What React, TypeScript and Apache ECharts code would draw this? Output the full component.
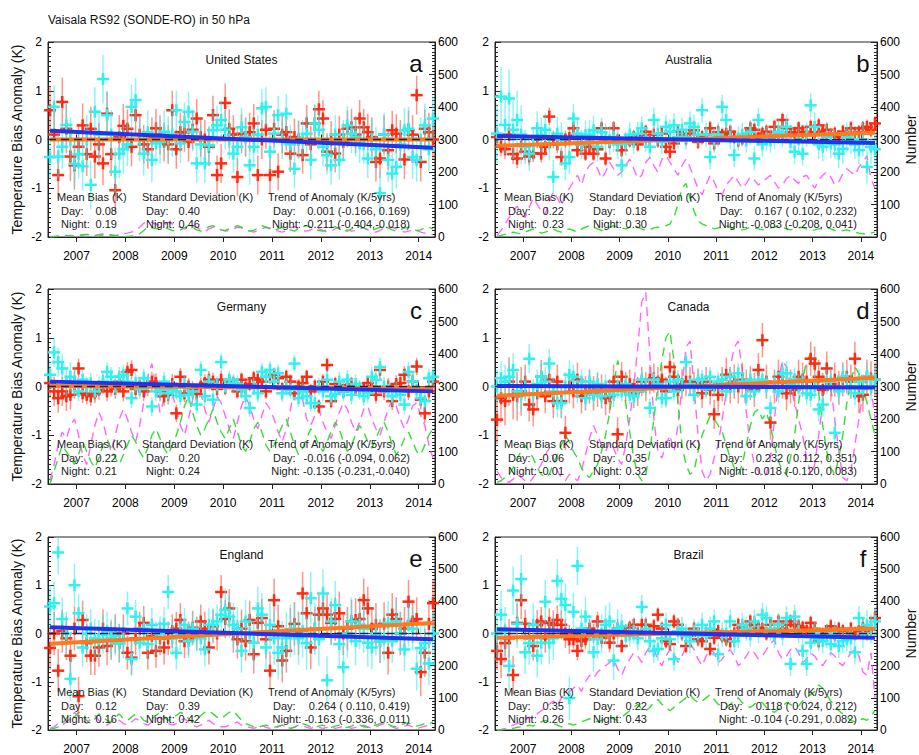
import React, { useEffect, useRef } from 'react';
import * as echarts from 'echarts';

const FONT = '"Liberation Sans", Arial, Helvetica, sans-serif';
const X_MIN = 2006 + 5 / 12; // start of June 2006
const X_MAX = 2014 + 4 / 12; // start of May 2014
const yearTicks = [2007, 2008, 2009, 2010, 2011, 2012, 2013, 2014];
const mainTitle = 'Vaisala RS92 (SONDE-RO) in 50 hPa';

// ---------- United States ----------
const usDay = [0.6,0.1,-0.73,0.77,0.22,-0.35,-0.53,-0.15,0.29,-0.3,0.22,-0.35,-0.1,-0.49,0.53,-0.3,-1.04,0.05,0.28,0.22,-0.15,0.5,0.1,-0.1,-0.2,0.05,0.23,0.1,-0.05,-0.1,0.6,-0.2,0.15,0.15,-0.05,0.2,0.43,0.05,0.0,-0.15,0.5,-0.73,-0.49,0.75,0.22,0.1,-0.77,0.12,0.05,0.15,0.33,-0.73,0.0,0.2,-0.73,0.22,-0.66,0.1,0.15,-0.29,0.05,0.0,-0.32,0.33,-0.1,0.33,0.62,0.43,-0.25,0.0,-0.29,0.1,-0.05,0.22,0.25,0.1,0.43,0.25,0.15,0.05,-0.46,-0.39,0.1,-0.22,0.19,0.12,0.0,-0.41,0.19,0.1,0.91,-0.46,0.22,0.15,0.0];
const usNight = [-0.36,0.67,-0.35,-0.15,0.3,0.0,-0.5,-0.3,-0.55,0.0,-0.93,0.57,0.1,1.24,0.5,0.1,-0.66,-0.29,-0.2,-0.1,0.67,0.81,0.0,-0.29,0.15,-0.42,-0.08,-0.05,0.16,0.02,0.1,0.6,-0.08,0.36,0.57,0.16,-0.49,-0.1,-0.49,-0.12,0.19,0.29,0.4,0.2,0.0,-0.29,-0.15,0.25,0.05,-0.53,-0.15,0.1,0.64,0.67,-0.25,0.12,0.5,0.0,0.53,-0.1,-0.6,0.0,0.0,0.12,-0.42,0.33,0.2,-0.15,-0.32,-0.53,0.1,-0.42,0.0,0.29,0.12,0.05,-0.08,-0.1,-0.39,0.0,-0.2,-1.1,0.1,-0.42,-0.7,-0.56,-0.1,0.19,0.22,-0.36,-0.42,0.0,0.29,-0.2,0.43];
const usDayErr = [0.5,0.45,0.4,0.4,0.4,0.38,0.38,0.4,0.4];
const usNightErr = [0.45,0.5,0.45,0.4,0.4,0.4,0.4,0.45,0.45];
const usCountDay = [2,2,3,2,3,5,4, 5,6,8,6,5,8,10,8,6,5,8,10, 12,15,20,30,42,48,45,40,35,38,45,40, 35,30,25,28,35,30,22,18,25,30,28,22, 18,20,25,30,28,22,18,15,20,25,30,28, 22,18,15,20,28,32,25,20,18,22,28,25, 20,15,18,25,30,28,22,18,20,25,28,22, 18,15,20,28,32,30,25,20,15,18,22,20, 15,12,10,8];
const usCountNight = [0,1,2,3,5,3,2, 4,6,8,5,4,3,6,8,6,4,3,2, 2,3,5,10,20,30,28,25,30,32,25,20, 18,22,28,35,30,22,18,25,32,35,28,22, 20,25,30,35,30,22,18,20,28,35,30,25, 20,25,30,28,22,18,25,32,35,30,22,20, 18,22,28,32,25,20,18,25,30,32,28,22, 20,25,30,35,28,22,18,22,28,30,25,20, 22,28,30,25];
const usTrendDay = [0.0, 0.0];
const usTrendNight = [0.18, -0.17];
const usStats = ['0.08', '0.19', '0.40', '0.46', '0.001 (-0.166, 0.169)', '-0.211 (-0.404,-0.018)'];

// ---------- Australia ----------
const auDay = [0.05,-0.15,-0.2,0.1,-0.3,-0.39,-0.1,-0.25,-0.35,-0.28,0.0,-0.29,-0.15,0.47,0.0,-0.1,-0.36,0.0,0.03,0.23,-0.22,-0.1,-0.29,-0.15,-0.29,-0.2,0.23,-0.39,-0.05,0.23,-0.02,-0.22,-0.08,-0.02,0.05,-0.1,0.09,0.16,-0.02,0.1,-0.02,0.12,-0.15,-0.25,-0.08,0.16,0.1,0.02,0.12,0.19,-0.05,0.05,0.1,0.23,-0.08,0.15,0.09,0.12,0.16,0.05,-0.02,0.02,0.1,0.23,0.2,0.02,0.12,0.16,0.05,0.26,0.1,0.4,0.23,0.15,0.12,0.23,0.16,0.1,0.26,0.15,0.29,0.16,0.2,0.09,0.12,0.05,0.16,0.1,0.23,0.12,0.15,0.23,0.26,0.2,0.33];
const auNight = [0.12,0.88,0.3,0.84,0.2,0.4,0.1,-0.15,-0.29,-0.1,0.23,0.09,0.2,-0.08,-0.77,0.12,0.0,-0.49,-0.36,0.43,0.12,-0.1,0.09,0.1,0.19,-0.15,0.15,0.02,-0.02,0.05,-0.1,-0.53,-0.08,0.1,-0.05,0.12,0.23,0.0,-0.15,0.4,0.12,-0.05,0.26,0.16,0.29,0.05,0.2,0.05,0.33,0.26,0.1,0.6,0.1,-0.36,-0.02,0.1,0.67,0.4,0.05,-0.32,0.02,0.1,-0.02,0.15,-0.39,0.4,-0.1,0.02,-0.02,0.05,0.16,0.1,0.26,-0.05,-0.25,0.0,-0.29,0.1,0.7,0.26,-0.1,-0.15,0.05,-0.08,-0.1,-0.29,-0.19,0.05,0.0,-0.1,-0.22,0.0,-0.56,-0.15,-0.2];
const auDayErr = [0.2,0.18,0.15,0.15,0.15,0.15,0.15,0.15,0.15];
const auNightErr = [0.6,0.35,0.3,0.25,0.25,0.25,0.25,0.3,0.35];
const auCountDay = [5,20,40,60,80,95,70, 60,90,120,100,80,70,110,140,120,95,130,150, 170,190,160,200,220,230,210,180,200,230,210,190, 200,220,240,210,180,190,230,245,220,200,240,250, 230,210,190,220,240,215,180,150,130,160,190,170, 140,130,160,175,190,170,150,165,185,175,160,170, 180,190,170,150,160,180,190,175,165,185,190,170, 150,175,190,200,185,160,170,195,210,200,190,215, 230,250,180,150];
const auCountNight = [2,5,8,10,15,12,10, 15,20,25,18,12,15,20,25,18,15,20,25, 20,15,25,30,35,30,25,20,25,30,35,30, 28,25,30,35,30,25,20,22,28,30,32,35, 40,60,100,150,165,120,80,50,40,35,30,25, 28,30,35,30,25,20,22,25,30,28,25,22, 25,28,30,35,30,25,22,25,28,30,25,20, 22,25,28,30,25,20,18,20,22,18,15,12, 10,8,12,15];
const auTrendDay = [-0.13, 0.14];
const auTrendNight = [0.07, -0.07];
const auStats = ['0.22', '0.23', '0.18', '0.30', '0.167 ( 0.102, 0.232)', '-0.083 (-0.208, 0.041)'];

// ---------- Germany ----------
const deDay = [0.07,-0.1,-0.24,-0.1,-0.2,-0.17,0.05,0.37,-0.14,-0.17,-0.2,-0.14,-0.07,0.05,-0.1,0.0,-0.05,0.1,-0.1,0.3,0.34,-0.05,0.0,-0.1,0.0,0.1,0.07,-0.1,-0.2,-0.17,0.05,-0.55,0.2,-0.14,0.0,-0.07,-0.15,0.0,0.07,0.14,0.1,-0.05,0.14,-0.03,0.1,0.07,-0.1,0.14,-0.03,0.05,0.17,0.14,0.1,-0.1,0.2,0.24,0.17,-0.05,0.2,0.1,-0.14,0.0,0.07,0.2,-0.1,0.0,-0.41,0.1,0.44,-0.3,0.05,-0.03,-0.1,0.03,0.05,-0.03,-0.05,-0.07,0.07,0.0,-0.17,0.34,-0.1,0.0,-0.3,0.05,0.07,0.24,-0.1,0.1,0.41,-0.27,-0.55,-0.1,0.1];
const deNight = [0.24,0.7,0.5,0.37,0.1,0.2,0.07,-0.1,0.14,0.0,0.07,-0.1,0.0,0.1,0.3,0.2,0.0,0.2,0.24,0.1,-0.24,0.07,-0.05,0.17,0.05,-0.41,-0.1,-0.07,0.1,-0.14,-0.07,-0.1,-0.2,0.05,-0.17,-0.1,-0.37,0.34,-0.2,0.1,-0.27,0.03,0.5,0.0,0.14,0.07,0.05,-0.07,-0.2,-0.44,0.0,-0.14,0.3,0.2,0.34,0.1,0.27,-0.14,0.0,-0.07,0.47,-0.24,-0.1,-0.2,-0.34,-0.34,0.0,-0.1,0.14,-0.2,-0.15,0.1,-0.1,0.14,-0.17,0.05,-0.07,-0.2,-0.14,0.2,0.14,0.4,0.0,-0.07,-0.2,-0.1,-0.17,-0.37,0.3,0.1,-0.07,-0.24,-0.3,0.17,0.2];
const deDayErr = [0.3,0.2,0.2,0.18,0.15,0.15,0.15,0.18,0.2];
const deNightErr = [0.3,0.2,0.2,0.18,0.18,0.18,0.2,0.2,0.2];
const deCountDay = [10,60,120,160,140,180,200, 150,90,60,120,180,220,190,140,100,150,200,230, 200,160,130,180,250,330,370,300,220,260,300,280, 230,180,150,200,260,310,280,230,190,230,270,250, 210,170,140,190,240,270,240,200,170,210,250,230, 200,160,130,170,230,290,310,260,200,180,210,230, 190,160,140,180,220,250,230,190,160,190,230,240, 200,170,150,190,230,260,240,200,170,200,240,250, 210,180,120,80];
const deCountNight = [0,40,80,120,100,80,60, 90,130,100,70,50,80,120,140,110,80,60,90, 120,150,130,100,80,110,150,170,140,110,90,120, 150,190,240,270,220,180,150,170,200,230,190,160, 140,170,200,160,120,100,130,170,190,160,120,100, 120,150,180,200,160,120,90,110,140,170,150,120, 100,130,160,190,170,130,100,120,150,180,160,130, 110,140,170,190,160,120,90,110,140,160,130,100, 90,120,150,170];
const deTrendDay = [0.01, -0.04];
const deTrendNight = [0.1, -0.1];
const deStats = ['0.22', '0.21', '0.20', '0.24', '-0.016 (-0.094, 0.062)', '-0.135 (-0.231,-0.040)'];

// ---------- Canada ----------
const caDay = [-0.68,-0.24,-0.3,0.1,-0.17,-0.2,-0.1,0.1,-0.37,-0.47,-0.14,0.2,-0.2,0.14,-0.3,0.1,-0.3,-0.95,0.0,-0.1,0.14,-0.2,-0.14,0.0,-0.14,-0.07,-0.1,-0.24,-0.2,0.1,-0.98,0.2,0.0,0.05,-0.14,-0.1,0.1,0.0,0.14,0.17,0.1,0.14,-0.1,0.4,0.2,-0.07,0.05,0.1,0.1,0.0,0.07,-0.14,0.1,-0.07,-0.57,-0.17,0.05,0.24,0.0,0.1,0.0,0.14,0.0,0.07,-0.07,0.34,0.95,0.1,-0.74,0.0,0.2,0.1,-0.14,0.0,-0.07,0.2,0.14,0.1,0.57,0.47,0.2,-0.07,0.37,0.05,0.14,-0.03,0.15,0.2,0.1,0.57,-0.2,-0.17,0.2,0.17,0.14];
const caNight = [0.0,0.17,0.1,0.2,0.34,-0.1,-0.17,0.0,0.57,-0.14,0.05,0.2,0.1,0.47,-0.1,-0.34,-0.34,0.0,0.24,0.2,-0.1,0.1,-0.24,0.1,-0.17,0.05,-0.2,0.0,-0.1,-0.17,0.0,-0.1,0.05,-0.17,-0.2,-0.1,0.14,0.0,-0.44,0.14,0.05,-0.24,-0.24,0.1,-0.1,0.14,0.0,0.5,0.05,-0.17,0.14,0.14,-0.05,0.2,0.0,0.1,0.14,-0.1,0.2,0.0,0.27,0.1,-0.2,0.14,-0.1,0.1,0.14,0.0,-0.44,0.07,-0.1,0.27,0.27,0.05,0.14,0.0,0.1,-0.14,-0.17,0.0,-0.47,-0.37,0.1,0.1,-0.95,-0.1,0.2,0.14,0.0,-0.14,0.1,-0.05,0.2,0.0,0.14];
const caDayErr = [0.5,0.35,0.35,0.3,0.3,0.35,0.35,0.35,0.35];
const caNightErr = [0.35,0.3,0.25,0.2,0.2,0.2,0.25,0.25,0.3];
const caCountDay = [40,20,10,5,15,30,20, 10,5,20,40,60,90,110,80,40,20,10,30, 20,10,40,90,140,180,150,120,100,130,110,80, 60,120,200,300,420,560,590,400,200,100,80,120, 150,100,180,300,420,440,300,150,40,10,30,80, 120,200,280,360,420,440,350,220,120,60,40,20, 30,80,200,320,380,360,300,250,200,150,80,30, 60,150,250,330,300,200,100,20,10,40,120,200, 280,330,300,200];
const caCountNight = [5,10,20,30,50,80,100, 120,100,80,50,30,20,30,60,90,120,150,130, 100,80,50,30,20,40,60,100,150,220,300,380, 340,250,160,80,30,10,30,100,200,300,380,450, 470,380,250,120,60,30,40,100,150,180,210,200, 180,160,120,80,50,30,60,120,180,220,230,200, 220,180,120,70,40,30,80,150,250,320,380,400, 360,280,180,100,50,30,80,150,250,320,360,340, 300,250,200,150];
const caTrendDay = [-0.19, 0.18];
const caTrendNight = [0.01, -0.02];
const caStats = ['-0.06', '-0.01', '0.35', '0.32', '0.232 ( 0.112, 0.351)', '-0.018 (-0.120, 0.083)'];

// ---------- England ----------
const enDay = [-0.3,0.0,-0.77,0.05,-0.1,-0.46,0.1,-1.3,0.28,-0.2,-0.46,-0.46,-0.29,0.1,-0.26,-0.15,0.0,-0.2,0.0,-0.4,-0.5,-0.1,0.1,0.22,-0.4,-0.05,-0.36,-0.1,-0.29,-0.1,0.05,0.1,0.28,-0.16,-0.1,0.12,0.0,0.25,0.1,-0.29,0.15,0.0,0.86,0.3,0.52,0.0,-0.12,0.1,-0.16,0.28,-0.43,0.22,0.32,-0.12,-0.77,0.69,0.15,-0.56,-0.36,0.08,0.2,0.0,0.83,0.42,-0.29,0.1,0.39,0.52,0.39,0.22,0.3,0.42,0.0,0.1,0.25,0.28,0.3,0.69,0.52,0.1,0.18,-0.16,0.2,-0.4,0.39,0.3,0.0,0.1,0.66,0.25,0.3,-0.8,-0.4,0.2,0.63];
const enNight = [0.56,0.63,1.68,0.3,0.0,-0.94,1.0,0.42,-0.29,0.0,0.1,-0.1,-0.12,-0.02,0.05,-0.1,-0.05,-0.2,-0.12,0.52,-0.53,0.35,-0.19,0.1,-0.22,0.18,-0.1,0.0,0.2,0.86,-0.1,-0.4,0.0,0.18,-0.16,0.1,-0.02,-0.1,-0.33,0.18,0.18,0.25,0.39,0.49,0.35,0.18,0.1,-0.36,0.25,0.0,-0.19,0.52,0.39,-0.29,0.18,-0.1,-0.4,-0.29,-0.1,0.05,0.1,-0.1,0.05,-0.2,0.73,0.1,-0.12,0.83,-0.97,0.25,0.59,-0.22,-0.7,0.0,0.25,-0.16,0.18,0.1,-0.19,-0.29,0.0,-0.16,-0.1,0.22,-0.16,0.25,0.0,-0.33,0.18,0.1,-0.73,-0.3,-0.2,-0.62,0.0];
const enDayErr = [0.45,0.4,0.35,0.35,0.4,0.45,0.45,0.45,0.5];
const enNightErr = [0.45,0.4,0.35,0.35,0.45,0.55,0.5,0.45,0.45];
const enCountDay = [5,10,20,15,25,35,55, 40,30,20,35,45,30,20,15,25,35,30,20, 15,25,35,30,20,15,25,35,40,30,20,15, 20,30,35,25,15,10,15,25,30,20,15,10, 10,15,20,25,15,10,8,5,10,15,8,5, 5,10,15,8,5,10,15,12,8,5,10,8, 5,8,10,5,8,12,10,5,8,10,15,10, 5,10,15,20,15,10,5,8,12,15,10,5, 8,12,15,10];
const enCountNight = [2,5,10,20,35,50,40, 55,45,30,20,35,50,40,30,25,40,50,35, 30,40,50,45,30,25,35,45,55,40,30,35, 45,55,50,35,25,30,45,55,60,50,40,35, 45,55,60,45,30,20,15,10,8,12,15,10, 8,12,15,10,5,8,15,20,15,10,8,12, 15,10,8,12,15,10,8,12,18,15,10,8, 12,15,20,25,18,12,10,15,20,22,15,12, 15,20,18,25];
const enTrendDay = [-0.21, 0.22];
const enTrendNight = [0.13, -0.12];
const enStats = ['0.12', '0.16', '0.39', '0.42', '0.264 ( 0.110, 0.419)', '-0.163 (-0.336, 0.011)'];

// ---------- Brazil ----------
const brDay = [-0.36,-0.53,-0.2,-0.1,-0.86,0.22,0.69,0.2,-0.1,-0.26,0.18,0.25,-0.1,0.22,0.18,0.28,0.18,0.0,-0.12,-0.12,-0.36,-0.16,-0.12,0.1,0.0,0.25,-0.09,0.05,-0.19,0.0,0.1,-0.26,0.05,0.12,0.18,0.0,0.18,0.18,0.0,0.15,0.39,0.1,-0.16,-0.22,0.25,0.18,0.0,-0.26,-0.05,0.1,-0.12,-0.16,0.0,-0.32,-0.09,0.05,-0.05,-0.12,-0.16,0.0,0.18,0.12,0.05,0.25,0.18,0.12,0.1,0.0,0.18,0.0,0.25,0.1,0.18,0.25,0.18,0.15,0.12,0.05,0.22,0.1,-0.16,-0.02,0.05,0.15,-0.02,0.1,0.05,-0.05,0.1,0.0,0.05,0.12,0.05,0.1,0.32];
const brNight = [0.0,0.39,0.05,-0.67,0.89,0.2,1.13,-0.39,-0.2,0.18,-0.46,-0.19,0.66,-0.19,-0.1,1.09,0.72,0.59,-1.34,0.45,1.4,0.1,0.35,-0.02,-0.39,-0.12,0.0,0.18,0.25,-0.56,0.1,0.15,-0.05,-0.02,0.05,-0.1,0.55,0.1,-0.16,-0.36,-0.32,-0.1,0.18,-0.12,-0.53,0.05,0.1,-0.05,-0.16,0.05,0.0,0.18,-0.05,0.1,0.25,-0.43,-0.02,0.0,0.25,-0.16,-0.05,0.18,0.1,-0.02,0.25,0.05,0.39,0.32,0.1,-0.05,0.18,0.0,0.32,-0.63,0.35,0.05,-0.36,-0.63,-0.19,0.0,-0.12,-0.16,-0.05,-0.22,0.0,-0.26,-0.16,-0.12,-0.1,-0.39,0.32,0.0,0.18,0.1,0.25];
const brDayErr = [0.4,0.3,0.2,0.15,0.15,0.15,0.15,0.15,0.2];
const brNightErr = [0.5,0.45,0.4,0.25,0.25,0.25,0.25,0.25,0.3];
const brCountDay = [0,2,5,10,15,20,25, 30,40,35,50,60,70,80,90,75,100,110,120, 130,140,120,150,170,160,180,190,200,210,220,190, 170,200,220,240,230,210,240,260,250,220,200,230, 250,240,210,230,260,270,250,220,200,230,250,240, 210,220,240,250,230,200,210,230,250,240,220,230, 250,270,280,240,220,230,250,260,240,210,220,240, 230,210,200,220,240,230,210,200,220,240,250,230, 180,170,240,100];
const brCountNight = [0,0,2,5,5,8,10, 10,15,12,20,25,30,25,20,15,10,15,20, 15,20,25,30,35,30,25,30,35,40,35,30, 40,50,60,70,80,65,60,70,85,95,80,70, 60,70,80,90,100,110,95,85,90,100,110,95, 80,75,70,80,90,100,85,75,70,80,90,85, 70,60,55,65,75,85,80,70,75,90,100,110, 120,140,130,110,90,75,60,50,40,30,25,30, 35,30,45,60];
const brTrendDay = [-0.09, 0.1];
const brTrendNight = [0.09, -0.09];
const brStats = ['0.35', '0.26', '0.22', '0.43', '0.118 ( 0.024, 0.212)', '-0.104 (-0.291, 0.082)'];

const panels = [
  { name: 'United States', letter: 'a', day: usDay, night: usNight, dayErr: usDayErr, nightErr: usNightErr, cD: usCountDay, cN: usCountNight, tD: usTrendDay, tN: usTrendNight, stats: usStats },
  { name: 'Australia', letter: 'b', day: auDay, night: auNight, dayErr: auDayErr, nightErr: auNightErr, cD: auCountDay, cN: auCountNight, tD: auTrendDay, tN: auTrendNight, stats: auStats },
  { name: 'Germany', letter: 'c', day: deDay, night: deNight, dayErr: deDayErr, nightErr: deNightErr, cD: deCountDay, cN: deCountNight, tD: deTrendDay, tN: deTrendNight, stats: deStats },
  { name: 'Canada', letter: 'd', day: caDay, night: caNight, dayErr: caDayErr, nightErr: caNightErr, cD: caCountDay, cN: caCountNight, tD: caTrendDay, tN: caTrendNight, stats: caStats },
  { name: 'England', letter: 'e', day: enDay, night: enNight, dayErr: enDayErr, nightErr: enNightErr, cD: enCountDay, cN: enCountNight, tD: enTrendDay, tN: enTrendNight, stats: enStats },
  { name: 'Brazil', letter: 'f', day: brDay, night: brNight, dayErr: brDayErr, nightErr: brNightErr, cD: brCountDay, cN: brCountNight, tD: brTrendDay, tN: brTrendNight, stats: brStats },
];

const COL_LEFT = [48, 495];
const ROW_TOP = [42, 289, 537];
const GRID_W = 387;
const GRID_H = [195, 195, 194];

const xOf = (i: number) => X_MIN + (i + 0.5) / 12;
const errOf = (arr: number[], i: number) => arr[Math.min(arr.length - 1, Math.max(0, Math.floor(xOf(i)) - 2006))];

function crossRenderer(color: string, barColor: string) {
  return (params: any, api: any) => {
    const cs = params.coordSys;
    const x = api.value(0);
    const v = api.value(1);
    const e = api.value(2);
    const p = api.coord([x, v]);
    const clampY = (y: number) => Math.max(cs.y, Math.min(cs.y + cs.height, y));
    const t = clampY(api.coord([x, v + e])[1]);
    const b = clampY(api.coord([x, v - e])[1]);
    const children: any[] = [
      { type: 'line', shape: { x1: p[0], y1: t, x2: p[0], y2: b }, style: { stroke: barColor, lineWidth: 1.5 } },
    ];
    if (p[1] >= cs.y && p[1] <= cs.y + cs.height) {
      children.push({ type: 'line', shape: { x1: p[0] - 6, y1: p[1], x2: p[0] + 6, y2: p[1] }, style: { stroke: color, lineWidth: 2.5 } });
      children.push({ type: 'line', shape: { x1: p[0], y1: clampY(p[1] - 6), x2: p[0], y2: clampY(p[1] + 6) }, style: { stroke: color, lineWidth: 2.5 } });
    }
    return { type: 'group', children };
  };
}

function buildOption() {
  const grid: any[] = [];
  const xAxis: any[] = [];
  const yAxis: any[] = [];
  const series: any[] = [];
  const graphic: any[] = [];
  const axisColor = '#222';
  const textColor = '#111';

  graphic.push({ type: 'text', x: 48, y: 20, style: { text: mainTitle, font: `12px ${FONT}`, fill: textColor, textAlign: 'left', textVerticalAlign: 'middle' } });

  panels.forEach((p, k) => {
    const col = k % 2;
    const row = Math.floor(k / 2);
    const L = COL_LEFT[col];
    const T = ROW_TOP[row];
    const H = GRID_H[row];
    grid.push({ left: L, top: T, width: GRID_W, height: H, show: true, borderColor: axisColor, borderWidth: 1, backgroundColor: 'transparent' });
    // bottom axis (index 2k) and top axis (index 2k+1)
    xAxis.push({
      gridIndex: k, type: 'value', min: X_MIN, max: X_MAX, position: 'bottom',
      axisLine: { show: true, lineStyle: { color: axisColor, width: 1 } },
      axisTick: { show: true, inside: true, length: 5, customValues: yearTicks, lineStyle: { color: axisColor } },
      axisLabel: { show: true, customValues: yearTicks, formatter: (v: number) => String(Math.round(v)), fontSize: 12, fontFamily: FONT, color: '#000', margin: 13 },
      splitLine: { show: false },
    });
    xAxis.push({
      gridIndex: k, type: 'value', min: X_MIN, max: X_MAX, position: 'top',
      axisLine: { show: true, lineStyle: { color: axisColor, width: 1 } },
      axisTick: { show: true, inside: true, length: 5, customValues: yearTicks, lineStyle: { color: axisColor } },
      axisLabel: { show: false },
      splitLine: { show: false },
    });
    yAxis.push({
      gridIndex: k, type: 'value', min: -2, max: 2, interval: 1, position: 'left',
      axisLine: { show: true, lineStyle: { color: axisColor } },
      axisTick: { show: true, inside: true, length: 6, lineStyle: { color: axisColor } },
      minorTick: { show: true, splitNumber: 10, length: 3, lineStyle: { color: axisColor } },
      axisLabel: { fontSize: 12, fontFamily: FONT, color: '#000', margin: 6 },
      splitLine: { show: false },
      name: col === 0 ? 'Temperature Bias Anomaly (K)' : '',
      nameLocation: 'middle', nameGap: 24,
      nameTextStyle: { fontSize: 14, fontFamily: FONT, color: '#111' },
    });
    yAxis.push({
      gridIndex: k, type: 'value', min: 0, max: 600, interval: 100, position: 'right',
      axisLine: { show: true, lineStyle: { color: axisColor } },
      axisTick: { show: true, inside: true, length: 6, lineStyle: { color: axisColor } },
      minorTick: { show: true, splitNumber: 10, length: 3, lineStyle: { color: axisColor } },
      axisLabel: { fontSize: 12, fontFamily: FONT, color: '#000', margin: 3 },
      splitLine: { show: false },
      name: col === 1 ? 'Number' : '',
      nameLocation: 'middle', nameGap: 27,
      nameTextStyle: { fontSize: 14, fontFamily: FONT, color: '#111' },
    });

    const xi = 2 * k;
    const yl = 2 * k;
    const yr = 2 * k + 1;
    const lastIdx = p.day.length - 1;

    series.push({
      type: 'line', xAxisIndex: xi, yAxisIndex: yr, data: p.cD.map((c, i) => [xOf(i), c]),
      symbol: 'none', silent: true, z: 1,
      lineStyle: { color: '#ff66ff', width: 1.4, type: [9, 6] },
    });
    series.push({
      type: 'line', xAxisIndex: xi, yAxisIndex: yr, data: p.cN.map((c, i) => [xOf(i), c]),
      symbol: 'none', silent: true, z: 1,
      lineStyle: { color: '#33dd33', width: 1.4, type: [9, 6] },
    });
    series.push({
      type: 'custom', xAxisIndex: xi, yAxisIndex: yl, z: 2, silent: true,
      data: p.day.map((v, i) => [xOf(i), v, errOf(p.dayErr, i)]),
      renderItem: crossRenderer('#ff2a10', 'rgba(255,60,40,0.55)'),
    });
    series.push({
      type: 'custom', xAxisIndex: xi, yAxisIndex: yl, z: 3, silent: true,
      data: p.night.map((v, i) => [xOf(i), v, errOf(p.nightErr, i)]),
      renderItem: crossRenderer('#30f0f0', 'rgba(48,235,235,0.55)'),
    });
    series.push({
      type: 'line', xAxisIndex: xi, yAxisIndex: yl, data: [[xOf(0), p.tD[0]], [xOf(lastIdx), p.tD[1]]],
      symbol: 'none', silent: true, z: 4,
      lineStyle: { color: '#ff7a1e', width: 4 },
    });
    series.push({
      type: 'line', xAxisIndex: xi, yAxisIndex: yl, data: [[X_MIN, 0], [X_MAX, 0]],
      symbol: 'none', silent: true, z: 5,
      lineStyle: { color: '#22224a', width: 1.5, type: [8, 5] },
    });
    series.push({
      type: 'line', xAxisIndex: xi, yAxisIndex: yl, data: [[xOf(0), p.tN[0]], [xOf(lastIdx), p.tN[1]]],
      symbol: 'none', silent: true, z: 6,
      lineStyle: { color: '#2233ee', width: 4 },
    });

    // Texts
    const txt = (text: string, x: number, y: number, size: number, align = 'left', fill = '#222') => ({
      type: 'text', x, y, z: 10, silent: true,
      style: { text, font: `${size}px ${FONT}`, fill, textAlign: align, textVerticalAlign: 'middle' },
    });
    graphic.push(txt(p.name, L + GRID_W / 2, T + 18, 12, 'center', '#111'));
    graphic.push(txt(p.letter, L + GRID_W - 19, T + 21, 24, 'center', '#111'));
    const r0 = T + 155, r1 = T + 169, r2 = T + 182;
    const fs = 11;
    graphic.push(txt('Mean Bias (K)', L + 9, r0, fs));
    graphic.push(txt('Day:', L + 13, r1, fs));
    graphic.push(txt(p.stats[0], L + 69, r1, fs, 'right'));
    graphic.push(txt('Night:', L + 13, r2, fs));
    graphic.push(txt(p.stats[1], L + 69, r2, fs, 'right'));
    graphic.push(txt('Standard Deviation (K)', L + 94, r0, fs));
    graphic.push(txt('Day:', L + 98, r1, fs));
    graphic.push(txt(p.stats[2], L + 152, r1, fs, 'right'));
    graphic.push(txt('Night:', L + 98, r2, fs));
    graphic.push(txt(p.stats[3], L + 152, r2, fs, 'right'));
    graphic.push(txt('Trend of Anomaly (K/5yrs)', L + 220, r0, fs));
    graphic.push(txt('Day:', L + 225, r1, fs));
    graphic.push(txt(p.stats[4], L + 362, r1, fs, 'right'));
    graphic.push(txt('Night: ' + p.stats[5], L + 362, r2, fs, 'right'));
  });

  return {
    animation: false,
    backgroundColor: '#ffffff',
    textStyle: { fontFamily: FONT },
    grid, xAxis, yAxis, series, graphic,
  };
}

export default function App() {
  const ref = useRef<HTMLDivElement>(null);
  useEffect(() => {
    if (!ref.current) return;
    const chart = echarts.init(ref.current, null, { renderer: 'svg' });
    chart.setOption(buildOption() as any);
    return () => chart.dispose();
  }, []);
  return (
    <div
      ref={ref}
      style={{ position: 'fixed', left: 0, top: 0, width: 919, height: 755, background: '#fff' }}
    />
  );
}
